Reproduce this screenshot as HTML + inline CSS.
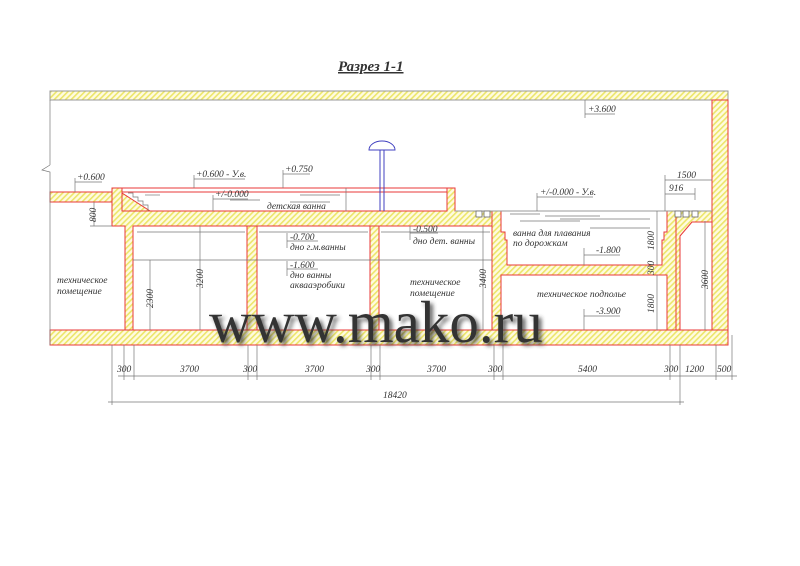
<!DOCTYPE html>
<html><head><meta charset="utf-8"><style>
html,body{margin:0;padding:0;background:#fff;width:800px;height:566px;overflow:hidden}
svg{display:block}
text{font-family:"Liberation Serif",serif;font-style:italic;fill:#333}
.s{font-size:9.5px}
</style></head><body>
<svg width="800" height="566" viewBox="0 0 800 566" xmlns="http://www.w3.org/2000/svg">
<defs>
<pattern id="h" width="4" height="4" patternUnits="userSpaceOnUse" patternTransform="rotate(45)">
<rect width="4" height="4" fill="#fffbe0"/><rect width="1.6" height="4" fill="#ece66a"/>
</pattern>
<filter id="bl"><feGaussianBlur stdDeviation="2.2"/></filter>
</defs>
<g stroke="#e83a3a" stroke-width="1" fill="url(#h)">
<rect x="50" y="91" width="678" height="9" stroke="#999"/>
<rect x="712" y="100" width="16" height="245"/>
<rect x="50" y="330" width="678" height="15"/>
<rect x="50" y="192" width="62" height="10"/>
<polygon points="112,188 122,188 122,211 447,211 447,188 455,188 455,211 500,211 500,226 133,226 133,330 125,330 125,226 112,226"/>
<rect x="247" y="226" width="10" height="104"/>
<rect x="370" y="226" width="9" height="104"/>
<path d="M492,211 H676 V330 H492 Z M501,211 V232 H505 V240 H507 V265 H662 V240 H664 V232 H667 V211 Z M501,275 V330 H667 V275 Z" fill-rule="evenodd"/>
<path d="M676,211 H712 V330 H676 Z M680,236 L692,222 H712 V330 H680 Z" fill-rule="evenodd"/>
<polygon points="122,193 150,211 122,211"/>
</g>
<g stroke="#e83a3a" fill="none">
<line x1="122" y1="188" x2="447" y2="188"/><line x1="122" y1="192" x2="447" y2="192"/>
<line x1="455" y1="211" x2="712" y2="211" stroke="#999"/>
</g>
<g fill="#fff" stroke="#666" stroke-width="0.8">
<rect x="476" y="211" width="6" height="6"/><rect x="484" y="211" width="6" height="6"/>
<rect x="675" y="211" width="6" height="6"/><rect x="683" y="211" width="6" height="6"/>
<rect x="692" y="211" width="6" height="6"/>
</g>
<g stroke="#777" stroke-width="0.7" fill="none">
<line x1="50" y1="100" x2="50" y2="165"/><polyline points="50,165 42,170 50,172 50,345"/>
<path d="M128,193 h5 v4 h5 v4 h5 v4 h5 v6"/>
<line x1="137" y1="232" x2="245" y2="232"/><line x1="133" y1="260" x2="492" y2="260"/>
<line x1="259" y1="232" x2="368" y2="232"/><line x1="381" y1="232" x2="490" y2="232"/>
<line x1="145" y1="195" x2="160" y2="195"/><line x1="230" y1="200" x2="260" y2="200"/><line x1="290" y1="202" x2="330" y2="202"/><line x1="300" y1="195" x2="340" y2="195"/>
<line x1="510" y1="214" x2="540" y2="214"/><line x1="545" y1="216" x2="600" y2="216"/><line x1="560" y1="219" x2="650" y2="219"/><line x1="520" y1="221" x2="580" y2="221"/><line x1="590" y1="228" x2="650" y2="228"/>
<line x1="346" y1="188" x2="346" y2="211"/>
<!-- dimension lines -->
<line x1="112" y1="345" x2="112" y2="405"/><line x1="124" y1="345" x2="124" y2="380"/><line x1="134" y1="345" x2="134" y2="380"/>
<line x1="248" y1="345" x2="248" y2="380"/><line x1="257" y1="345" x2="257" y2="380"/><line x1="371" y1="345" x2="371" y2="380"/><line x1="380" y1="345" x2="380" y2="380"/>
<line x1="494" y1="345" x2="494" y2="380"/><line x1="503" y1="345" x2="503" y2="380"/><line x1="670" y1="345" x2="670" y2="380"/><line x1="680" y1="345" x2="680" y2="405"/>
<line x1="716" y1="345" x2="716" y2="380"/><line x1="732" y1="335" x2="732" y2="380"/>
<line x1="118" y1="376" x2="737" y2="376"/><line x1="108" y1="402" x2="684" y2="402"/>
<!-- vertical dims -->
<line x1="150" y1="260" x2="150" y2="330"/><line x1="200" y1="226" x2="200" y2="330"/><line x1="483" y1="226" x2="483" y2="330"/>
<line x1="657" y1="211" x2="657" y2="265"/><line x1="657" y1="275" x2="657" y2="330"/><line x1="705" y1="221" x2="705" y2="330"/>
<line x1="94" y1="202" x2="94" y2="226"/><line x1="90" y1="226" x2="112" y2="226"/>
<line x1="665" y1="180" x2="712" y2="180"/><line x1="665" y1="194" x2="695" y2="194"/><line x1="665" y1="175" x2="665" y2="211"/><line x1="695" y1="188" x2="695" y2="200"/>
<!-- level marks -->
<line x1="75" y1="182" x2="102" y2="182"/><line x1="75" y1="178" x2="75" y2="192"/>
<line x1="194" y1="179" x2="245" y2="179"/><line x1="194" y1="175" x2="194" y2="188"/>
<line x1="283" y1="174" x2="310" y2="174"/><line x1="283" y1="170" x2="283" y2="188"/>
<line x1="213" y1="199" x2="248" y2="199"/><line x1="213" y1="195" x2="213" y2="211"/>
<line x1="585" y1="114" x2="615" y2="114"/><line x1="585" y1="100" x2="585" y2="118"/>
<line x1="537" y1="197" x2="593" y2="197"/><line x1="537" y1="193" x2="537" y2="211"/>
<line x1="584" y1="255" x2="620" y2="255"/><line x1="584" y1="248" x2="584" y2="265"/>
<line x1="584" y1="316" x2="620" y2="316"/><line x1="584" y1="309" x2="584" y2="330"/>
<line x1="287" y1="241" x2="318" y2="241"/><line x1="287" y1="233" x2="287" y2="248"/>
<line x1="287" y1="269" x2="318" y2="269"/><line x1="287" y1="261" x2="287" y2="276"/>
<line x1="410" y1="233" x2="438" y2="233"/><line x1="410" y1="226" x2="410" y2="240"/>
</g>
<g stroke="#4040c0" stroke-width="1" fill="none">
<line x1="380" y1="148" x2="380" y2="211"/><line x1="384" y1="148" x2="384" y2="211"/>
<path d="M369,150 A13,9 0 0 1 395,150 Z" fill="#fff"/>
</g>
<text x="338" y="71" style="font-size:15px;font-weight:bold;text-decoration:underline" fill="#333">Разрез 1-1</text>
<g class="s">
<text x="77" y="180">+0.600</text><text x="196" y="177">+0.600 - У.в.</text><text x="285" y="172">+0.750</text>
<text x="215" y="197">+/-0.000</text><text x="267" y="209">детская ванна</text>
<text x="588" y="112">+3.600</text><text x="677" y="178">1500</text><text x="669" y="191">916</text>
<text x="540" y="195">+/-0.000 - У.в.</text><text x="513" y="236">ванна для плавания</text><text x="513" y="246">по дорожкам</text>
<text x="596" y="253">-1.800</text><text x="596" y="314">-3.900</text>
<text x="290" y="240">-0.700</text><text x="290" y="250">дно г.м.ванны</text>
<text x="290" y="268">-1.600</text><text x="290" y="278">дно ванны</text><text x="290" y="288">аквааэробики</text>
<text x="413" y="232">-0.500</text><text x="413" y="244">дно дет. ванны</text>
<text x="57" y="283">техническое</text><text x="57" y="294">помещение</text>
<text x="410" y="285">техническое</text><text x="410" y="296">помещение</text>
<text x="537" y="297">техническое подполье</text>
<text x="117" y="372">300</text><text x="180" y="372">3700</text><text x="243" y="372">300</text><text x="305" y="372">3700</text>
<text x="366" y="372">300</text><text x="427" y="372">3700</text><text x="488" y="372">300</text><text x="578" y="372">5400</text>
<text x="664" y="372">300</text><text x="685" y="372">1200</text><text x="717" y="372">500</text>
<text x="383" y="398">18420</text>
<text transform="translate(96,222) rotate(-90)">800</text>
<text transform="translate(153,308) rotate(-90)">2300</text>
<text transform="translate(203,288) rotate(-90)">3200</text>
<text transform="translate(486,288) rotate(-90)">3400</text>
<text transform="translate(654,250) rotate(-90)">1800</text>
<text transform="translate(654,275) rotate(-90)">300</text>
<text transform="translate(654,313) rotate(-90)">1800</text>
<text transform="translate(708,289) rotate(-90)">3600</text>
</g>
<text x="212" y="345" style="font-size:59px;font-style:normal" fill="#000" filter="url(#bl)" opacity="0.8">www.mako.ru</text>
<text x="209" y="342" style="font-size:59px;font-style:normal" fill="#555">www.mako.ru</text>
</svg>
</body></html>
